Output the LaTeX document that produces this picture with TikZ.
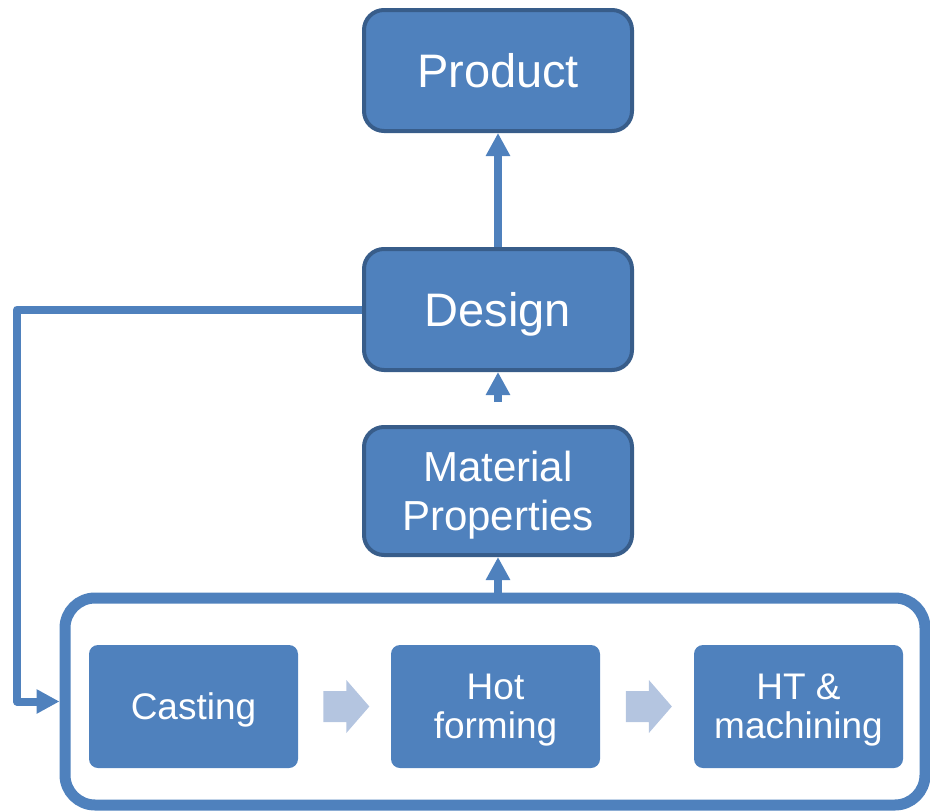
\documentclass[tikz,border=0pt]{standalone}
\usepackage{fontspec}
\setmainfont{Liberation Sans}
\usetikzlibrary{arrows.meta,calc}
\definecolor{boxfill}{HTML}{4F81BD}
\definecolor{boxline}{HTML}{385D8A}
\definecolor{lightarr}{HTML}{B4C5E0}
\tikzset{
  bigbox/.style={rectangle, rounded corners=20pt, fill=boxfill, draw=boxline, line width=4pt,
    minimum width=268pt, text=white, align=center, inner sep=0pt, text depth=0pt},
  stagebox/.style={rectangle, rounded corners=9pt, fill=boxfill, minimum width=209pt,
    minimum height=123pt, text=white, align=center, inner sep=0pt, text depth=0pt,
    font=\fontsize{37}{39}\selectfont},
  conn/.style={draw=boxfill, line width=8pt, -{Triangle[width=23pt,length=23pt]}},
  chev/.style={fill=lightarr}
}
\begin{document}
\begin{tikzpicture}[x=1pt,y=-1pt]
\useasboundingbox (0,0) rectangle (930,811);
\node[bigbox, minimum height=121pt, font=\fontsize{47}{56}\selectfont] (product) at (498,70.5) {Product};
\node[bigbox, minimum height=121pt, font=\fontsize{47}{56}\selectfont] (design) at (498,309.5) {Design};
\node[bigbox, minimum height=128pt, font=\fontsize{42}{49}\selectfont] (mat) at (498,491) {Material\\Properties};
\node[rectangle, rounded corners=30pt, draw=boxfill, line width=11pt, minimum width=860pt,
  minimum height=207pt] (proc) at (495,701.5) {};
\node[stagebox] (cast) at (193.5,706.5) {Casting};
\node[stagebox] (hot) at (495.5,706.5) {Hot\\forming};
\node[stagebox] (ht) at (798.5,706.5) {HT \&\\machining};
% chevrons
\path (cast.east) -- (hot.west) coordinate[pos=0.52] (m1);
\path (hot.east) -- (ht.west) coordinate[pos=0.52] (m2);
\foreach \m in {m1,m2}{
  \fill[chev] ($(\m)+(-23,-15.5)$) -- ($(\m)+(0,-15.5)$) -- ($(\m)+(0,-26.5)$) -- ($(\m)+(23,0)$)
    -- ($(\m)+(0,26.5)$) -- ($(\m)+(0,15.5)$) -- ($(\m)+(-23,15.5)$) -- cycle;
}
% connectors
\draw[conn] (design.north) -- (product.south);
\draw[conn] ([yshift=23pt]mat.north) -- (design.south);
\draw[conn] (mat.south |- proc.north) -- (mat.south);
\draw[conn, line join=round] (design.west) -- ++(-345,0) |- (proc.west);
\end{tikzpicture}
\end{document}
